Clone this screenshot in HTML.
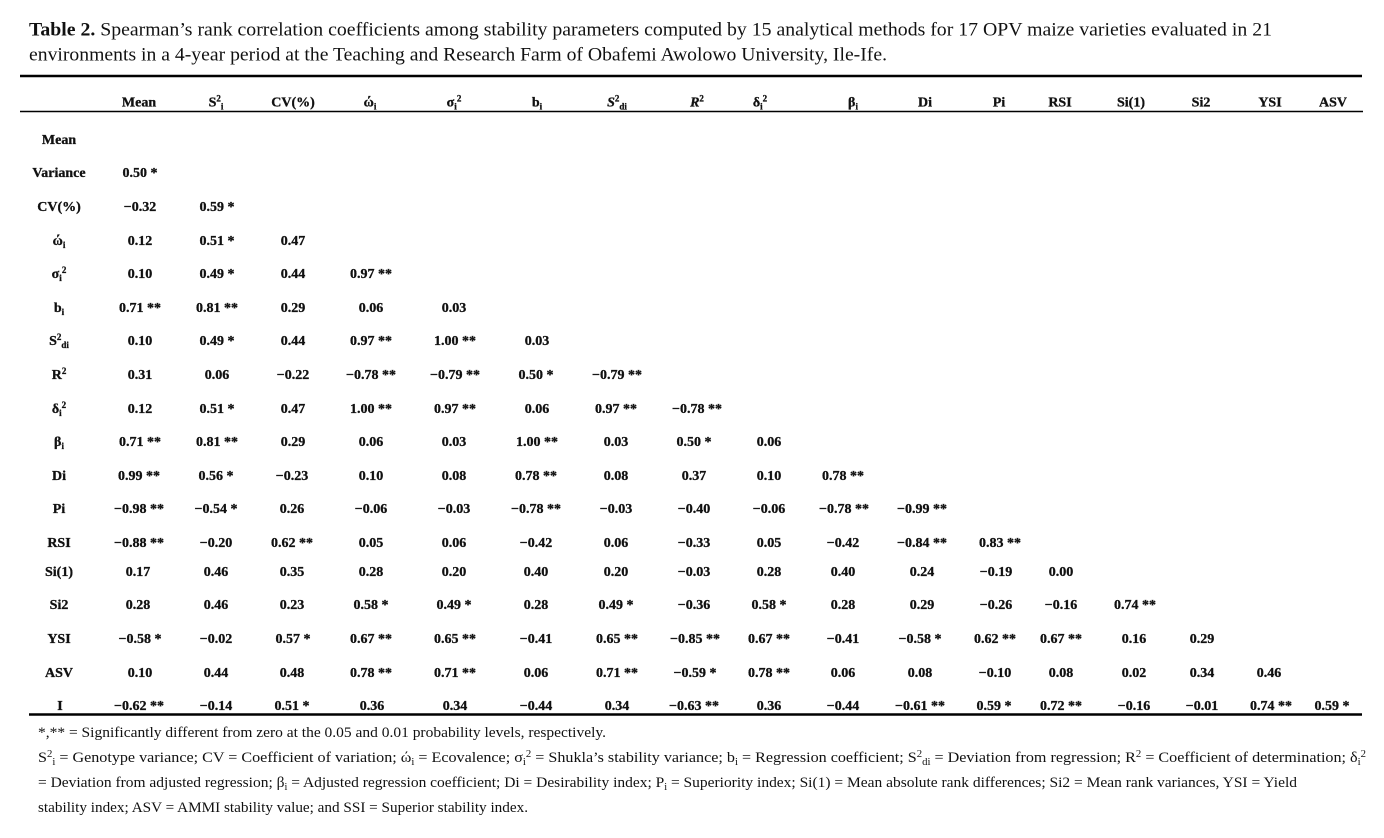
<!DOCTYPE html>
<html>
<head>
<meta charset="utf-8">
<style>
html,body{margin:0;padding:0;background:#fff;}
svg{display:block;}
text{fill:#111;}
</style>
</head>
<body>
<svg width="1384" height="838" viewBox="0 0 1384 838" xmlns="http://www.w3.org/2000/svg" font-family="'Liberation Serif', 'DejaVu Serif', serif">
<rect width="1384" height="838" fill="#fff"/>

<!-- Title -->
<text x="29" y="35.5" font-size="18.5" textLength="1243" lengthAdjust="spacingAndGlyphs"><tspan font-weight="bold">Table 2.</tspan> Spearman’s rank correlation coefficients among stability parameters computed by 15 analytical methods for 17 OPV maize varieties evaluated in 21</text>
<text x="29" y="60.5" font-size="18.5" textLength="858" lengthAdjust="spacingAndGlyphs">environments in a 4-year period at the Teaching and Research Farm of Obafemi Awolowo University, Ile-Ife.</text>

<!-- Rules -->
<line x1="20" y1="76" x2="1362" y2="76" stroke="#000" stroke-width="2.6"/>
<line x1="20" y1="111.5" x2="1363" y2="111.5" stroke="#000" stroke-width="1.4"/>
<line x1="29" y1="714.5" x2="1362" y2="714.5" stroke="#000" stroke-width="2.6"/>

<!-- Header -->
<g font-size="14" font-weight="bold" text-anchor="middle" stroke="#111" stroke-width="0.3">
<text x="139" y="106.5">Mean</text>
<text x="216" y="106.5">S<tspan font-size="9" dy="-5">2</tspan><tspan font-size="9" dy="8">i</tspan></text>
<text x="293" y="106.5">CV(%)</text>
<text x="370" y="106.5">ώ<tspan font-size="9" dy="3">i</tspan></text>
<text x="454" y="106.5">σ<tspan font-size="9" dy="3">i</tspan><tspan font-size="9" dy="-8">2</tspan></text>
<text x="537" y="106.5">b<tspan font-size="9" dy="3">i</tspan></text>
<text x="617" y="106.5"><tspan font-style="italic">S</tspan><tspan font-size="9" dy="-5">2</tspan><tspan font-size="9" dy="8">di</tspan></text>
<text x="697" y="106.5"><tspan font-style="italic">R</tspan><tspan font-size="9" dy="-5">2</tspan></text>
<text x="760" y="106.5">δ<tspan font-size="9" dy="3">i</tspan><tspan font-size="9" dy="-8">2</tspan></text>
<text x="853" y="106.5">β<tspan font-size="9" dy="3">i</tspan></text>
<text x="925" y="106.5">Di</text>
<text x="999" y="106.5">Pi</text>
<text x="1060" y="106.5">RSI</text>
<text x="1131" y="106.5">Si(1)</text>
<text x="1201" y="106.5">Si2</text>
<text x="1270" y="106.5">YSI</text>
<text x="1333" y="106.5">ASV</text>
</g>

<!-- Row labels -->
<g font-size="14" font-weight="bold" text-anchor="middle" stroke="#111" stroke-width="0.3">
<text x="59" y="144">Mean</text>
<text x="59" y="177">Variance</text>
<text x="59" y="211">CV(%)</text>
<text x="59" y="245">ώ<tspan font-size="9" dy="3">i</tspan></text>
<text x="59" y="278">σ<tspan font-size="9" dy="3">i</tspan><tspan font-size="9" dy="-8">2</tspan></text>
<text x="59" y="312">b<tspan font-size="9" dy="3">i</tspan></text>
<text x="59" y="345">S<tspan font-size="9" dy="-5">2</tspan><tspan font-size="9" dy="8">di</tspan></text>
<text x="59" y="379">R<tspan font-size="9" dy="-5">2</tspan></text>
<text x="59" y="413">δ<tspan font-size="9" dy="3">i</tspan><tspan font-size="9" dy="-8">2</tspan></text>
<text x="59" y="446">β<tspan font-size="9" dy="3">i</tspan></text>
<text x="59" y="480">Di</text>
<text x="59" y="513">Pi</text>
<text x="59" y="547">RSI</text>
<text x="59" y="576">Si(1)</text>
<text x="59" y="609">Si2</text>
<text x="59" y="643">YSI</text>
<text x="59" y="677">ASV</text>
<text x="60" y="710">I</text>
</g>

<!-- Cells -->
<g font-size="14" font-weight="bold" text-anchor="middle" stroke="#111" stroke-width="0.3">
<!-- Variance -->
<text x="140" y="177">0.50 *</text>
<!-- CV -->
<text x="140" y="211">−0.32</text><text x="217" y="211">0.59 *</text>
<!-- omega -->
<text x="140" y="245">0.12</text><text x="217" y="245">0.51 *</text><text x="293" y="245">0.47</text>
<!-- sigma -->
<text x="140" y="278">0.10</text><text x="217" y="278">0.49 *</text><text x="293" y="278">0.44</text><text x="371" y="278">0.97 **</text>
<!-- b -->
<text x="140" y="312">0.71 **</text><text x="217" y="312">0.81 **</text><text x="293" y="312">0.29</text><text x="371" y="312">0.06</text><text x="454" y="312">0.03</text>
<!-- S2di -->
<text x="140" y="345">0.10</text><text x="217" y="345">0.49 *</text><text x="293" y="345">0.44</text><text x="371" y="345">0.97 **</text><text x="455" y="345">1.00 **</text><text x="537" y="345">0.03</text>
<!-- R2 -->
<text x="140" y="379">0.31</text><text x="217" y="379">0.06</text><text x="293" y="379">−0.22</text><text x="371" y="379">−0.78 **</text><text x="455" y="379">−0.79 **</text><text x="536" y="379">0.50 *</text><text x="617" y="379">−0.79 **</text>
<!-- delta -->
<text x="140" y="413">0.12</text><text x="217" y="413">0.51 *</text><text x="293" y="413">0.47</text><text x="371" y="413">1.00 **</text><text x="455" y="413">0.97 **</text><text x="537" y="413">0.06</text><text x="616" y="413">0.97 **</text><text x="697" y="413">−0.78 **</text>
<!-- beta -->
<text x="140" y="446">0.71 **</text><text x="217" y="446">0.81 **</text><text x="293" y="446">0.29</text><text x="371" y="446">0.06</text><text x="454" y="446">0.03</text><text x="537" y="446">1.00 **</text><text x="616" y="446">0.03</text><text x="694" y="446">0.50 *</text><text x="769" y="446">0.06</text>
<!-- Di -->
<text x="139" y="480">0.99 **</text><text x="216" y="480">0.56 *</text><text x="292" y="480">−0.23</text><text x="371" y="480">0.10</text><text x="454" y="480">0.08</text><text x="536" y="480">0.78 **</text><text x="616" y="480">0.08</text><text x="694" y="480">0.37</text><text x="769" y="480">0.10</text><text x="843" y="480">0.78 **</text>
<!-- Pi -->
<text x="139" y="513">−0.98 **</text><text x="216" y="513">−0.54 *</text><text x="292" y="513">0.26</text><text x="371" y="513">−0.06</text><text x="454" y="513">−0.03</text><text x="536" y="513">−0.78 **</text><text x="616" y="513">−0.03</text><text x="694" y="513">−0.40</text><text x="769" y="513">−0.06</text><text x="844" y="513">−0.78 **</text><text x="922" y="513">−0.99 **</text>
<!-- RSI -->
<text x="139" y="547">−0.88 **</text><text x="216" y="547">−0.20</text><text x="292" y="547">0.62 **</text><text x="371" y="547">0.05</text><text x="454" y="547">0.06</text><text x="536" y="547">−0.42</text><text x="616" y="547">0.06</text><text x="694" y="547">−0.33</text><text x="769" y="547">0.05</text><text x="843" y="547">−0.42</text><text x="922" y="547">−0.84 **</text><text x="1000" y="547">0.83 **</text>
<!-- Si(1) -->
<text x="138" y="576">0.17</text><text x="216" y="576">0.46</text><text x="292" y="576">0.35</text><text x="371" y="576">0.28</text><text x="454" y="576">0.20</text><text x="536" y="576">0.40</text><text x="616" y="576">0.20</text><text x="694" y="576">−0.03</text><text x="769" y="576">0.28</text><text x="843" y="576">0.40</text><text x="922" y="576">0.24</text><text x="996" y="576">−0.19</text><text x="1061" y="576">0.00</text>
<!-- Si2 -->
<text x="138" y="609">0.28</text><text x="216" y="609">0.46</text><text x="292" y="609">0.23</text><text x="371" y="609">0.58 *</text><text x="454" y="609">0.49 *</text><text x="536" y="609">0.28</text><text x="616" y="609">0.49 *</text><text x="694" y="609">−0.36</text><text x="769" y="609">0.58 *</text><text x="843" y="609">0.28</text><text x="922" y="609">0.29</text><text x="996" y="609">−0.26</text><text x="1061" y="609">−0.16</text><text x="1135" y="609">0.74 **</text>
<!-- YSI -->
<text x="140" y="643">−0.58 *</text><text x="216" y="643">−0.02</text><text x="293" y="643">0.57 *</text><text x="371" y="643">0.67 **</text><text x="455" y="643">0.65 **</text><text x="536" y="643">−0.41</text><text x="617" y="643">0.65 **</text><text x="695" y="643">−0.85 **</text><text x="769" y="643">0.67 **</text><text x="843" y="643">−0.41</text><text x="920" y="643">−0.58 *</text><text x="995" y="643">0.62 **</text><text x="1061" y="643">0.67 **</text><text x="1134" y="643">0.16</text><text x="1202" y="643">0.29</text>
<!-- ASV -->
<text x="140" y="677">0.10</text><text x="216" y="677">0.44</text><text x="292" y="677">0.48</text><text x="371" y="677">0.78 **</text><text x="455" y="677">0.71 **</text><text x="536" y="677">0.06</text><text x="617" y="677">0.71 **</text><text x="695" y="677">−0.59 *</text><text x="769" y="677">0.78 **</text><text x="843" y="677">0.06</text><text x="920" y="677">0.08</text><text x="995" y="677">−0.10</text><text x="1061" y="677">0.08</text><text x="1134" y="677">0.02</text><text x="1202" y="677">0.34</text><text x="1269" y="677">0.46</text>
<!-- I -->
<text x="139" y="710">−0.62 **</text><text x="216" y="710">−0.14</text><text x="292" y="710">0.51 *</text><text x="372" y="710">0.36</text><text x="455" y="710">0.34</text><text x="536" y="710">−0.44</text><text x="617" y="710">0.34</text><text x="694" y="710">−0.63 **</text><text x="769" y="710">0.36</text><text x="843" y="710">−0.44</text><text x="920" y="710">−0.61 **</text><text x="994" y="710">0.59 *</text><text x="1061" y="710">0.72 **</text><text x="1134" y="710">−0.16</text><text x="1202" y="710">−0.01</text><text x="1271" y="710">0.74 **</text><text x="1332" y="710">0.59 *</text>
</g>

<!-- Footnotes -->
<g font-size="15">
<text x="38" y="737" textLength="568" lengthAdjust="spacingAndGlyphs">*,** = Significantly different from zero at the 0.05 and 0.01 probability levels, respectively.</text>
<text x="38" y="762" textLength="1328" lengthAdjust="spacingAndGlyphs">S<tspan font-size="10" dy="-5">2</tspan><tspan font-size="10" dy="8">i</tspan><tspan dy="-3"> = Genotype variance; CV = Coefficient of variation; ώ</tspan><tspan font-size="10" dy="3">i</tspan><tspan dy="-3"> = Ecovalence; σ</tspan><tspan font-size="10" dy="3">i</tspan><tspan font-size="10" dy="-8">2</tspan><tspan dy="5"> = Shukla’s stability variance; b</tspan><tspan font-size="10" dy="3">i</tspan><tspan dy="-3"> = Regression coefficient; S</tspan><tspan font-size="10" dy="-5">2</tspan><tspan font-size="10" dy="8">di</tspan><tspan dy="-3"> = Deviation from regression; R</tspan><tspan font-size="10" dy="-5">2</tspan><tspan dy="5"> = Coefficient of determination; δ</tspan><tspan font-size="10" dy="3">i</tspan><tspan font-size="10" dy="-8">2</tspan></text>
<text x="38" y="787" textLength="1259" lengthAdjust="spacingAndGlyphs">= Deviation from adjusted regression; β<tspan font-size="10" dy="3">i</tspan><tspan dy="-3"> = Adjusted regression coefficient; Di = Desirability index; P</tspan><tspan font-size="10" dy="3">i</tspan><tspan dy="-3"> = Superiority index; Si(1) = Mean absolute rank differences; Si2 = Mean rank variances, YSI = Yield</tspan></text>
<text x="38" y="812" textLength="490" lengthAdjust="spacingAndGlyphs">stability index; ASV = AMMI stability value; and SSI = Superior stability index.</text>
</g>
</svg>
</body>
</html>
